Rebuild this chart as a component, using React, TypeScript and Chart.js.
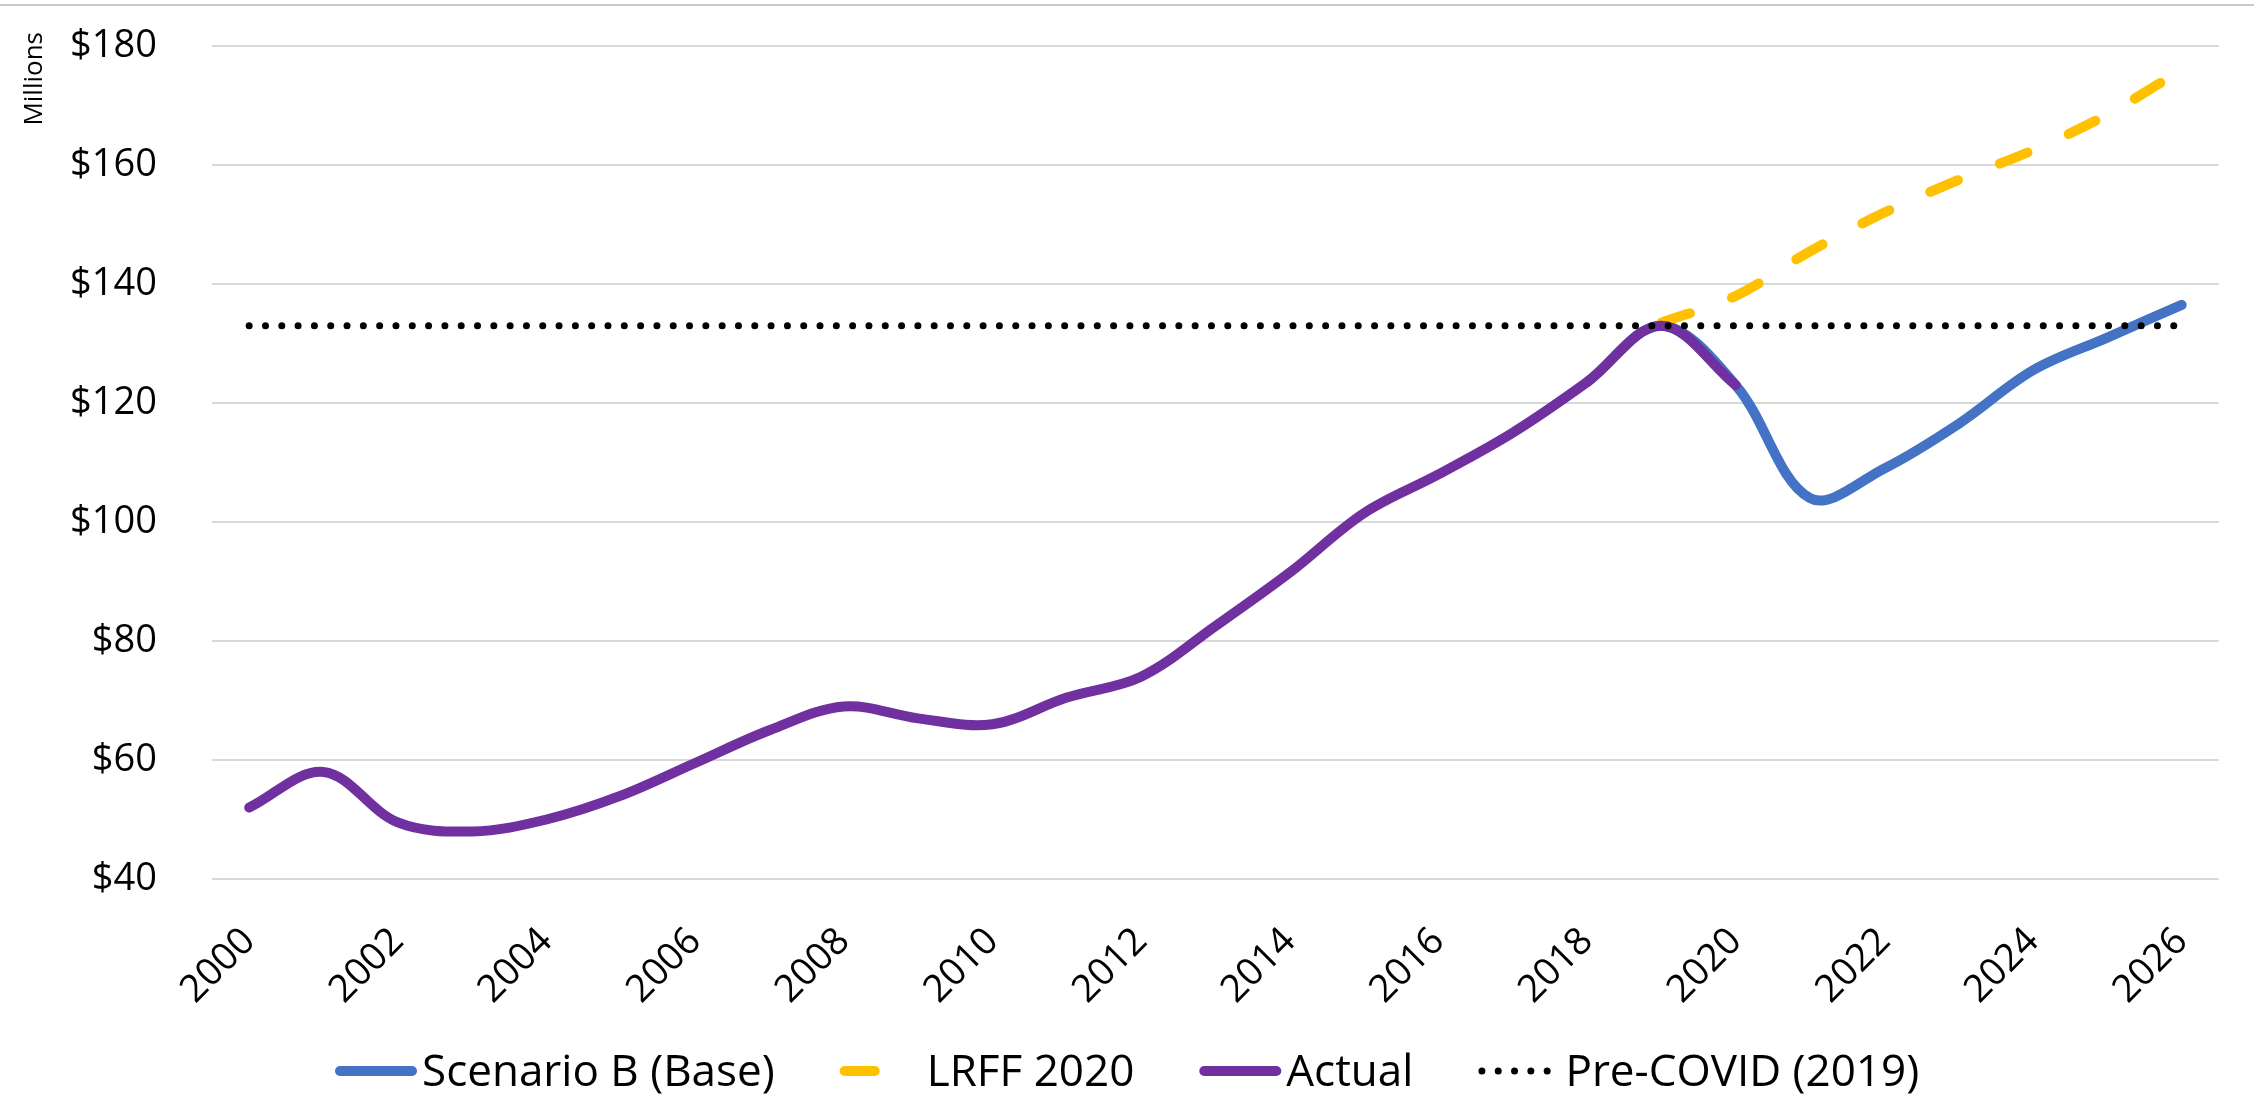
import React, { useEffect, useRef } from 'react';
import { Chart, registerables } from 'chart.js';

Chart.register(...registerables);

const YEARS = ['2000','2001','2002','2003','2004','2005','2006','2007','2008','2009','2010','2011','2012','2013','2014','2015','2016','2017','2018','2019','2020','2021','2022','2023','2024','2025','2026'];

const ACTUAL = [52, 58, 49.5, 48, 50, 54, 59.5, 65, 69, 67, 66, 70.5, 74, 82.5, 91.5, 101.5, 108, 115, 123.5, 133, 123];

const SCENARIO_B = [null, null, null, null, null, null, null, null, null, null, null, null, null, null, null, null, null, null, 123.5, 133, 123, 104, 109, 116.5, 125.5, 131, 136.5];

const LRFF_2020 = [null, null, null, null, null, null, null, null, null, null, null, null, null, null, null, null, null, null, null, 133.5, 138, 145.5, 152, 157.5, 162.5, 168.5, 176];

const PRE_COVID = [133, 133, 133, 133, 133, 133, 133, 133, 133, 133, 133, 133, 133, 133, 133, 133, 133, 133, 133, 133, 133, 133, 133, 133, 133, 133, 133];

const Y_TICKS = [40, 60, 80, 100, 120, 140, 160, 180];

const Y_UNIT = 'Millions';

const FONT = '"Open Sans", "DejaVu Sans", sans-serif';

const legendPlugin = {
  id: 'bottomLineLegend',
  afterDraw(chart: any) {
    const ctx = chart.ctx;
    const y = 1071;
    let x = 335;
    ctx.save();
    ctx.font = '44px ' + FONT;
    ctx.textBaseline = 'alphabetic';
    ctx.textAlign = 'left';
    chart.data.datasets.forEach((ds: any) => {
      ctx.save();
      ctx.strokeStyle = ds.borderColor;
      ctx.lineWidth = ds.borderWidth;
      ctx.lineCap = 'round';
      ctx.setLineDash(ds.borderDash || []);
      ctx.beginPath();
      const inset = ds.borderWidth / 2;
      ctx.moveTo(x + inset, y);
      ctx.lineTo(x + 82 - inset, y);
      ctx.stroke();
      ctx.restore();
      ctx.fillStyle = '#000';
      ctx.fillText(ds.label, x + 87, y + 15);
      x += 87 + ctx.measureText(ds.label).width + 65;
    });
    ctx.restore();
  },
};

const unitTitlePlugin = {
  id: 'yUnitTitle',
  afterDraw(chart: any) {
    const ctx = chart.ctx;
    ctx.save();
    ctx.translate(35, 32);
    ctx.rotate(-Math.PI / 2);
    ctx.font = '26px ' + FONT;
    ctx.fillStyle = '#000';
    ctx.textAlign = 'right';
    ctx.textBaseline = 'middle';
    ctx.fillText(Y_UNIT, 0, 0);
    ctx.restore();
  },
};

export default function App() {
  const ref = useRef<HTMLCanvasElement | null>(null);

  useEffect(() => {
    if (!ref.current) return;
    const chart = new Chart(ref.current, {
      type: 'line',
      data: {
        labels: YEARS,
        datasets: [
          {
            label: 'Scenario B (Base)',
            data: SCENARIO_B,
            borderColor: '#4472C4',
            backgroundColor: '#4472C4',
            borderWidth: 10,
            borderCapStyle: 'round',
            borderJoinStyle: 'round',
            pointRadius: 0,
            tension: 0.35,
            order: 4,
          },
          {
            label: 'LRFF 2020',
            data: LRFF_2020,
            borderColor: '#FFC000',
            backgroundColor: '#FFC000',
            borderWidth: 10,
            borderDash: [30, 45],
            borderCapStyle: 'round',
            borderJoinStyle: 'round',
            pointRadius: 0,
            tension: 0.35,
            order: 3,
          },
          {
            label: 'Actual',
            data: ACTUAL,
            borderColor: '#7030A0',
            backgroundColor: '#7030A0',
            borderWidth: 10,
            borderCapStyle: 'round',
            borderJoinStyle: 'round',
            pointRadius: 0,
            tension: 0.35,
            order: 2,
          },
          {
            label: 'Pre-COVID (2019)',
            data: PRE_COVID,
            borderColor: '#000000',
            backgroundColor: '#000000',
            borderWidth: 7,
            borderDash: [0.01, 16.3],
            borderCapStyle: 'round',
            pointRadius: 0,
            tension: 0,
            order: 1,
          },
        ],
      },
      options: {
        animation: false,
        responsive: false,
        devicePixelRatio: 1,
        layout: { padding: { top: 46, right: 5, left: 10, bottom: 76 } },
        plugins: {
          tooltip: { enabled: false },
          legend: { display: false },
        },
        scales: {
          x: {
            offset: true,
            grid: { display: false, drawTicks: false },
            border: { display: false },
            ticks: {
              autoSkip: false,
              maxRotation: 45,
              minRotation: 45,
              padding: 40,
              color: '#000',
              font: { family: FONT, size: 38 },
              callback: (_v: any, i: number) => (i % 2 === 0 ? YEARS[i] : ''),
            },
            afterFit: (s: any) => {
              s.height = 140;
            },
          },
          y: {
            min: 40,
            max: 180,
            afterBuildTicks: (s: any) => {
              s.ticks = Y_TICKS.map((v) => ({ value: v }));
            },
            grid: { color: '#d9d9d9', lineWidth: 2, drawTicks: false },
            border: { display: false },
            ticks: {
              padding: 55,
              color: '#000',
              font: { family: FONT, size: 38 },
              callback: (v: any) => '$' + v,
            },
            title: { display: false },
            afterFit: (s: any) => {
              s.width = 202;
              s.paddingTop = 0;
              s.paddingBottom = 0;
            },
          },
        },
      },
      plugins: [legendPlugin, unitTitlePlugin],
    });
    return () => chart.destroy();
  }, []);

  return (
    <div style={{ position: 'fixed', left: 0, top: 0, width: 2254, height: 1095, background: '#fff' }}>
      <div style={{ position: 'absolute', left: 0, top: 4, width: 2254, height: 2, background: '#c8c8c8' }} />
      <canvas ref={ref} width={2254} height={1095} style={{ display: 'block', width: 2254, height: 1095 }} />
    </div>
  );
}
